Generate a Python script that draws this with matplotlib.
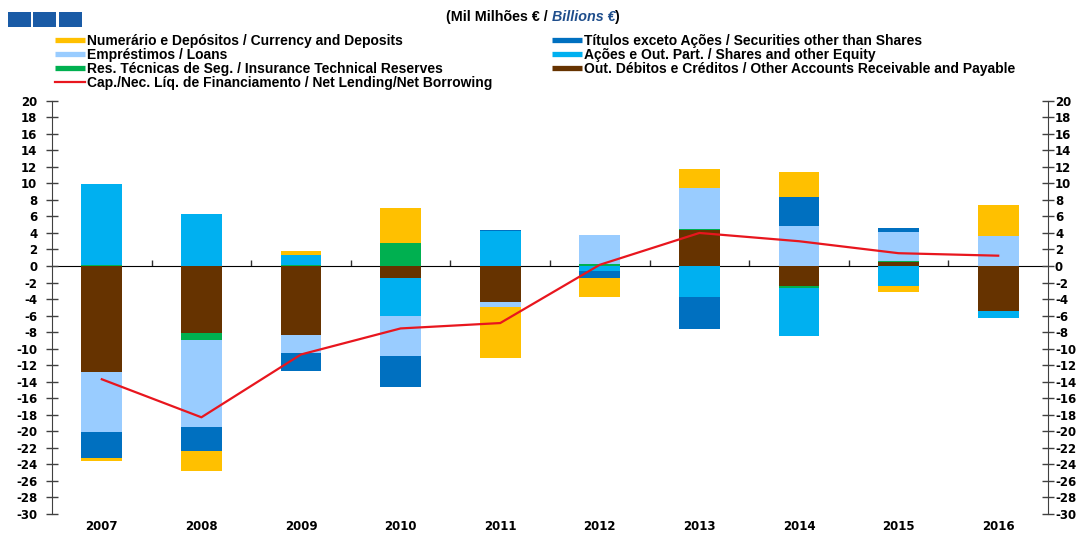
import numpy as np
import matplotlib
matplotlib.use("Agg")
import matplotlib.pyplot as plt
from matplotlib.lines import Line2D
from matplotlib.patches import Rectangle
from matplotlib.offsetbox import TextArea, HPacker, AnnotationBbox
from matplotlib.font_manager import FontProperties

# ---------------- data ----------------
years = ["2007", "2008", "2009", "2010", "2011", "2012", "2013", "2014", "2015", "2016"]
currency   = [-0.4, -2.4, 0.5, 4.25, -6.15, -2.2, 2.25, 3.05, -0.7, 3.7]
securities = [-3.1, -2.9, -2.15, -3.8, 0.15, -0.95, -3.95, 3.55, 0.5, 0.0]
loans      = [-7.3, -10.6, -2.1, -4.8, -0.65, 3.4, 5.0, 4.8, 3.5, 3.6]
shares     = [9.75, 6.3, 1.25, -4.65, 4.15, -0.55, -3.7, -5.8, -2.4, -0.85]
insurance  = [0.15, -0.8, 0.1, 2.75, 0.05, 0.3, 0.15, -0.25, 0.15, 0.05]
other      = [-12.8, -8.1, -8.4, -1.4, -4.3, 0.0, 4.3, -2.4, 0.45, -5.4]
net_lending = [-13.7, -18.3, -10.7, -7.55, -6.9, 0.15, 4.0, 3.0, 1.55, 1.25]

labels = {
    "currency": "Numerário e Depósitos / Currency and Deposits",
    "securities": "Títulos exceto Ações / Securities other than Shares",
    "loans": "Empréstimos / Loans",
    "shares": "Ações e Out. Part. / Shares and other Equity",
    "insurance": "Res. Técnicas de Seg. / Insurance Technical Reserves",
    "other": "Out. Débitos e Créditos / Other Accounts Receivable and Payable",
    "net": "Cap./Nec. Líq. de Financiamento / Net Lending/Net Borrowing",
}
colors = {
    "currency": "#FFC000",
    "securities": "#0070C0",
    "loans": "#99CCFF",
    "shares": "#00B0F0",
    "insurance": "#00B050",
    "other": "#663300",
    "net": "#E8161E",
}
series = {
    "currency": currency, "securities": securities, "loans": loans,
    "shares": shares, "insurance": insurance, "other": other,
}
# stacking order from zero outward
stack_order = ["other", "insurance", "shares", "loans", "securities", "currency"]

# ---------------- figure ----------------
W, H = 1083, 533
fig = plt.figure(figsize=(W / 100, H / 100), dpi=100)
ax_l, ax_r, ax_t, ax_b = 52, 1048, 100.7, 514
ax = fig.add_axes([ax_l / W, 1 - ax_b / H, (ax_r - ax_l) / W, (ax_b - ax_t) / H])

x = np.arange(len(years))
pos_base = np.zeros(len(years))
neg_base = np.zeros(len(years))
for key in stack_order:
    v = np.array(series[key], dtype=float)
    pos = np.where(v > 0, v, 0)
    neg = np.where(v < 0, v, 0)
    ax.bar(x, pos, bottom=pos_base, width=0.41, color=colors[key], linewidth=0, zorder=2)
    ax.bar(x, neg, bottom=neg_base, width=0.41, color=colors[key], linewidth=0, zorder=2)
    pos_base += pos
    neg_base += neg

ax.plot(x, net_lending, color=colors["net"], lw=1.6, zorder=4)

ax.set_xlim(-0.5, len(years) - 0.5)
ax.set_ylim(-30, 20)
yt = np.arange(-30, 21, 2)
ax.set_yticks(yt)
ax.set_yticklabels([str(v) for v in yt])

tick_font = FontProperties(family="DejaVu Sans", weight="bold", size=8.5)
for s in ["top", "bottom"]:
    ax.spines[s].set_visible(False)
ax.spines["left"].set_color("#404040")
ax.spines["right"].set_visible(False)
ax.tick_params(axis="y", direction="inout", length=9, width=1, color="#404040", pad=6.0)
for t in ax.get_yticklabels():
    t.set_fontproperties(tick_font)

ax.set_xticks(x)
ax.set_xticklabels(years)
ax.tick_params(axis="x", length=0, pad=4)
for t in ax.get_xticklabels():
    t.set_fontproperties(tick_font)

# zero line with category boundary ticks
sec = ax.secondary_xaxis(30 / 50)
sec.set_xticks(np.arange(0.5, len(years) - 0.5, 1))
sec.tick_params(direction="out", length=4, width=1, color="#303030", labelbottom=False, labeltop=False)
sec.spines["bottom"].set_color("#303030")
sec.spines["bottom"].set_linewidth(1.1)

# right axis
ax2 = ax.twinx()
ax2.set_ylim(-30, 20)
ax2.set_yticks(yt)
ax2.set_yticklabels([str(v) for v in yt])
for s in ["top", "bottom", "left"]:
    ax2.spines[s].set_visible(False)
ax2.spines["right"].set_color("#404040")
ax2.tick_params(axis="y", direction="inout", length=9, width=1, color="#404040", pad=0.5)
for t in ax2.get_yticklabels():
    t.set_fontproperties(tick_font)

# ---------------- legends ----------------
leg_font = dict(family="Liberation Sans", weight="bold", size=10)

def patch_handle(key):
    return Line2D([], [], color=colors[key], lw=3.8, solid_capstyle="butt")

col1 = [patch_handle("currency"), patch_handle("loans"), patch_handle("insurance"),
        Line2D([], [], color=colors["net"], lw=1.6)]
col1_lab = [labels["currency"], labels["loans"], labels["insurance"], labels["net"]]
col2 = [patch_handle("securities"), patch_handle("shares"), patch_handle("other")]
col2_lab = [labels["securities"], labels["shares"], labels["other"]]

common = dict(loc="upper left", frameon=False, borderpad=0, borderaxespad=0,
              handlelength=2.15, handletextpad=0.15, labelspacing=0.0, prop=leg_font,
              bbox_transform=fig.transFigure)
fig.legend(col1, col1_lab, bbox_to_anchor=(55 / W, 1 - 34 / H), **common)
fig.legend(col2, col2_lab, bbox_to_anchor=(552 / W, 1 - 34 / H), **common)

# ---------------- header ----------------
for i in range(3):
    fig.add_artist(Rectangle(((8 + i * 25.3) / W, 1 - 27 / H), 23 / W, 15 / H,
                             transform=fig.transFigure, color="#1A5BA6", lw=0))

hdr_size = 10.3
hdr = HPacker(children=[
    TextArea("(Mil Milhões € / ", textprops=dict(family="Liberation Sans", weight="bold", size=hdr_size, color="black")),
    TextArea("Billions €", textprops=dict(family="Liberation Sans", weight="bold", style="italic", size=hdr_size, color="#1F4E8C")),
    TextArea(")", textprops=dict(family="Liberation Sans", weight="bold", size=hdr_size, color="black")),
], pad=0, sep=0, align="baseline")
ab = AnnotationBbox(hdr, (533 / W, 1 - 17 / H), xycoords="figure fraction", frameon=False,
                    box_alignment=(0.5, 0.5), pad=0)
fig.add_artist(ab)

fig.savefig("out.png", dpi=100)
